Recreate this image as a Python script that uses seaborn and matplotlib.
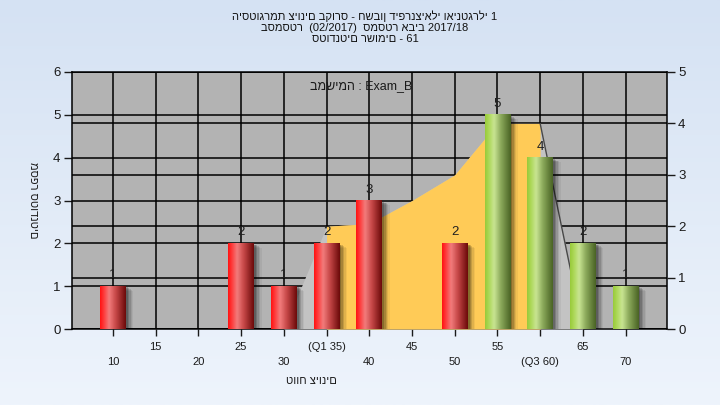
"""
Grade histogram with quartile band (recreation)
"""

import numpy as np
import matplotlib
matplotlib.use("Agg")
import matplotlib.pyplot as plt
import seaborn as sns
from matplotlib.colors import LinearSegmentedColormap
from matplotlib.patches import Rectangle
from matplotlib.transforms import ScaledTranslation


# ---- data ----
score_bins = ["10", "15", "20", "25", "30", "35", "40", "45", "50", "55", "60", "65", "70"]
tick_labels = ["10", "15", "20", "25", "30", "(Q1 35)", "40", "45", "50", "55", "(Q3 60)", "65", "70"]
student_counts = [1, 0, 0, 2, 1, 2, 3, 0, 2, 5, 4, 2, 1]
curve_values = [0, 0, 0, 0, 0, 2.0, 2.05, 2.5, 3.0, 4.0, 4.0, 0, 0]
q1_bin = 35
q3_bin = 60
pass_mark = 55

title_lines = [
    "היסטוגרמת ציונים בקורס - חשבון דיפרנציאלי ואינטגרלי 1",
    "בסמסטר  (02/2017)  סמסטר אביב 2017/18",
    "סטודנטים רשומים - 61",
]
task_label = "במשימה : Exam_B"
x_title = "טווח ציונים"
y_title = "מספר סטודנטים"

sns.set_style("white")
plt.rcParams["font.family"] = ["Liberation Sans", "DejaVu Sans"]

fig = plt.figure(figsize=(7.2, 4.05), dpi=100)

# soft blue background
bg = fig.add_axes([0, 0, 1, 1], zorder=-5)
bg_cmap = LinearSegmentedColormap.from_list("bg", ["#d5e2f3", "#eef4fc"])
bg.imshow(np.linspace(0, 1, 256)[:, None], aspect="auto", cmap=bg_cmap,
          extent=(0, 1, 0, 1))
bg.axis("off")

W, H = 720.0, 405.0
rect = [71.5 / W, 1 - 329 / H, (667 - 71.5) / W, (329 - 72) / H]
ax = fig.add_axes(rect)       # left axis, grey plot area + grid
ax2 = ax.twinx()              # right axis, area curve
ax3 = ax.twinx()              # bars on the left scale

# ---- bars ----
red_c, green_c = "#e02020", "#8cbc3c"
palette = {b: (green_c if int(b) >= pass_mark else red_c) for b in score_bins}
sns.barplot(x=score_bins, y=student_counts, hue=score_bins, palette=palette,
            legend=False, width=0.6, saturation=1, ax=ax3, zorder=3)

red_grad = LinearSegmentedColormap.from_list(
    "red", [(0, "#ff1212"), (0.12, "#ff3434"), (0.35, "#f27c7c"),
            (0.62, "#c54646"), (1, "#6c0a0a")])
green_grad = LinearSegmentedColormap.from_list(
    "green", [(0, "#98ca3a"), (0.12, "#a9d652"), (0.35, "#c9e592"),
              (0.62, "#8aa85a"), (1, "#4a6424")])
strip = np.linspace(0, 1, 64)[None, :]

for p in list(ax3.patches):
    h = p.get_height()
    if h <= 0:
        p.set_visible(False)
        continue
    x0, w = p.get_x(), p.get_width()
    fc = p.get_facecolor()
    cmap = green_grad if fc[1] > fc[0] else red_grad
    # blurred drop shadow
    for dx, a in [(1.5, 0.18), (2.5, 0.15), (3.5, 0.12), (4.5, 0.08), (5.5, 0.05)]:
        sh = Rectangle((x0, 0), w, h, facecolor="black", alpha=a, lw=0,
                       zorder=2,
                       transform=ax3.transData + ScaledTranslation(
                           dx / 72, -dx * 0.6 / 72, fig.dpi_scale_trans))
        ax3.add_patch(sh)
    ax3.imshow(strip, cmap=cmap, aspect="auto", interpolation="bicubic",
               extent=(x0, x0 + w, 0, h), zorder=3)
    p.set_visible(False)

for c in ax3.containers:
    labels = [f"{int(v)}" if v > 0 else "" for v in c.datavalues]
    ax3.bar_label(c, labels=labels, padding=3.5, fontsize=9.5, color="#202020")

# ---- area curve on the right axis ----
in_band = [q1_bin <= int(b) <= q3_bin for b in score_bins]
ax2.fill_between(score_bins, curve_values, color="#c3c3c3", lw=0, zorder=1)
ax2.fill_between(score_bins, curve_values, where=in_band, color="#ffcb57",
                 lw=0, zorder=1.5)
ax2.plot(score_bins[10:], curve_values[10:], color="#484848", lw=1, zorder=2)
ax2.set_ylim(0, 5)
ax2.set_yticks(range(0, 6))
ax2.set_axisbelow(True)
ax2.grid(axis="y", color="black", lw=1.1)
ax2.tick_params(axis="y", length=6, width=1, pad=2, labelsize=9.5,
                colors="#1a1a1a")
for s in ax2.spines.values():
    s.set_visible(False)

# ---- left axis: frame, grid, ticks ----
ax.set_facecolor("#b3b3b3")
ax.set_ylim(0, 6)
ax.set_yticks(range(0, 7))
ax.set_xticks(score_bins[0::2])
ax.set_xticklabels(tick_labels[0::2])
ax.set_xticks(score_bins[1::2], minor=True)
ax.set_xticklabels(tick_labels[1::2], minor=True)
ax.set_xlim(-0.97, 12.97)
ax.grid(axis="both", which="both", color="black", lw=1.1)
ax.tick_params(axis="y", length=6, width=1, pad=2, labelsize=9.5,
               colors="#1a1a1a", left=True)
ax.tick_params(axis="x", which="major", length=5, width=1, pad=15.5,
               labelsize=8, colors="#1a1a1a", bottom=True)
ax.tick_params(axis="x", which="minor", length=5, width=1, pad=4,
               labelsize=8, colors="#1a1a1a", bottom=True)
for s in ax.spines.values():
    s.set_color("black")
    s.set_linewidth(1.1)

# bar axis has no own decorations
ax3.set_ylim(0, 6)
ax3.set_xlim(-0.97, 12.97)
ax3.set_xlabel("")
ax3.set_ylabel("")
ax3.yaxis.set_visible(False)
ax3.xaxis.set_visible(False)
ax3.patch.set_visible(False)
for s in ax3.spines.values():
    s.set_visible(False)

# ---- texts ----
fig.text(365 / W, 1 - 10 / H, "\n".join(title_lines), ha="center", va="top",
         fontsize=8, linespacing=1.12, color="#111111")
ax.text((412 - 71.5) / 595.5, (329 - 86) / 257, task_label, ha="right",
        va="center", fontsize=9, color="#1a1a1a", transform=ax.transAxes)
fig.text(311 / W, 1 - 381 / H, x_title, ha="center", va="center",
         fontsize=8, color="#1a1a1a")
fig.text(33 / W, 1 - 200 / H, y_title, ha="center", va="center",
         rotation=270, fontsize=8, color="#1a1a1a")

fig.savefig("out.png", dpi=100)
